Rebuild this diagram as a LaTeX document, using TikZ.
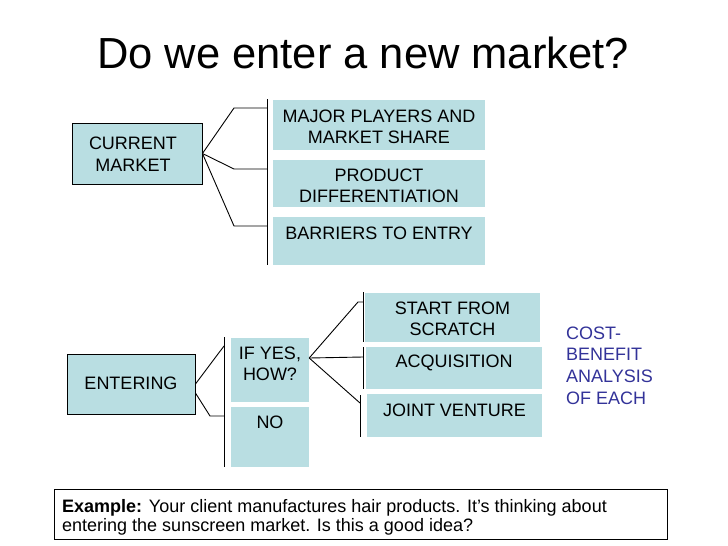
\documentclass[tikz,border=0pt]{standalone}
\usepackage{fontspec}
\setmainfont{Liberation Sans}
\usetikzlibrary{calc}
\definecolor{boxfill}{RGB}{185,222,226}
\definecolor{cbtext}{RGB}{51,51,153}
\begin{document}
\begin{tikzpicture}[x=1pt,y=-1pt,
  bluebox/.style={draw=none,fill=boxfill,inner sep=0pt},
  mainbox/.style={draw=black,line width=0.9pt,fill=boxfill,inner sep=0pt},
  boxtext/.style={inner sep=0pt,align=center,font=\fontsize{18}{21.5}\selectfont},
  conn/.style={draw=black,line width=0.9pt}]
\useasboundingbox[fill=white] (0,0) rectangle (728,546);

% title
\node[inner sep=0pt,anchor=base,font=\fontsize{43.5}{50}\selectfont] (title) at (363,68.5) {Do we enter a new market?};

% top section
\node[mainbox,minimum width=130,minimum height=61] (cm) at (137,153.5) {};
\node[boxtext] (cmt) at (133,154) {CURRENT\\MARKET};

\node[bluebox,minimum width=212,minimum height=50] (mp) at (379,125) {};
\node[boxtext] (mpt) at (379,127) {MAJOR PLAYERS AND\\MARKET SHARE};
\node[bluebox,minimum width=212,minimum height=47] (pd) at (379,183.5) {};
\node[boxtext] (pdt) at (379,186) {PRODUCT\\DIFFERENTIATION};
\node[bluebox,minimum width=212,minimum height=48] (be) at (379,241) {};
\node[boxtext] (bet) at (379,233) {BARRIERS TO ENTRY};

\coordinate (topbrA) at (267,99);
\coordinate (topbrB) at (267,265);
\draw[conn] (topbrA) -- (topbrB);
\coordinate (t1) at (234,108); \coordinate (t1e) at (267,108);
\coordinate (t2) at (234,169); \coordinate (t2e) at (267,169);
\coordinate (t3) at (234,226); \coordinate (t3e) at (267,226);
\draw[conn] (cm.east) -- (t1) -- (t1e);
\draw[conn] (cm.east) -- (t2) -- (t2e);
\draw[conn] (cm.east) -- (t3) -- (t3e);

% lower section
\node[mainbox,minimum width=128,minimum height=60] (ent) at (131,384) {};
\node[boxtext] (entt) at (131,383) {ENTERING};

\node[bluebox,minimum width=78,minimum height=64] (ify) at (270,370) {};
\node[boxtext] (ifyt) at (270,364) {IF YES,\\HOW?};
\node[bluebox,minimum width=78,minimum height=60] (no) at (270,437) {};
\node[boxtext] (not) at (270,422) {NO};

\coordinate (midbrA) at (224,337);
\coordinate (midbrB) at (224,467);
\draw[conn] (midbrA) -- (midbrB);
\coordinate (e1e) at (224,346);
\coordinate (e2) at (210,416); \coordinate (e2e) at (224,416);
\draw[conn] (ent.east) -- (e1e);
\draw[conn] ($(ent.east)+(0,9)$) -- (e2) -- (e2e);

\node[bluebox,minimum width=175,minimum height=49] (sfs) at (452.5,317.5) {};
\node[boxtext] (sfst) at (452.5,319) {START FROM\\SCRATCH};
\node[bluebox,minimum width=176,minimum height=42] (acq) at (454,368) {};
\node[boxtext] (acqt) at (454,363) {ACQUISITION};
\node[bluebox,minimum width=175,minimum height=43] (jv) at (454.5,415.5) {};
\node[boxtext] (jvt) at (454.5,410) {JOINT VENTURE};

\draw[conn] (363,292) coordinate (b1a) -- (363,342) coordinate (b1b);
\draw[conn] (363,347) coordinate (b2a) -- (363,389) coordinate (b2b);
\draw[conn] (360,395) coordinate (b3a) -- (360,437) coordinate (b3b);

\coordinate (ifo) at ($(ify.east)+(0,-12)$);
\coordinate (s1) at (358,302); \coordinate (s1e) at (363,302);
\coordinate (s2e) at (363,357);
\coordinate (s3e) at (360,403);
\draw[conn] (ifo) -- (s1) -- (s1e);
\draw[conn] (ifo) -- (s2e);
\draw[conn] (ifo) -- (s3e);

\node[inner sep=0pt,anchor=west,align=left,text=cbtext,font=\fontsize{18}{21.7}\selectfont] (cb) at (566,365.5) {COST-\\BENEFIT\\ANALYSIS\\OF EACH};

% example box
\node[draw=black,line width=0.9pt,inner sep=0pt,minimum width=613,minimum height=50] (ex) at (360.5,514) {};
\node[inner sep=0pt,anchor=north west,align=left,font=\fontsize{18}{19.5}\selectfont] (ext) at (62,498.8) {\textbf{Example:} Your client manufactures hair products. It’s thinking about\\entering the sunscreen market. Is this a good idea?};
\end{tikzpicture}
\end{document}
